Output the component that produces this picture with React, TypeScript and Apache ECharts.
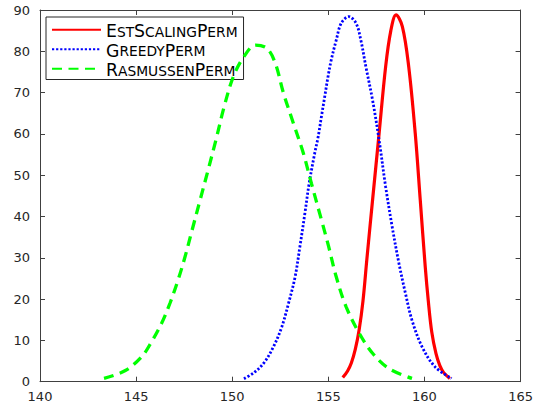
import React, { useEffect, useRef } from "react";
import * as echarts from "echarts";

const seriesNames = ["EstScalingPerm", "GreedyPerm", "RasmussenPerm"];
const seriesColors = ["#ff0000", "#0000ff", "#00ff00"];

const estX = [155.75, 156.0, 156.2, 156.4, 156.6, 156.8, 157.0, 157.3, 157.64, 157.98, 158.25, 158.52, 158.85, 159.18, 159.52, 159.78, 160.04, 160.2, 160.38, 160.6, 160.8, 161.0, 161.32];
const estY = [1.0, 2.6, 4.6, 7.8, 12.5, 19.5, 29.5, 44.0, 60.1, 76.3, 85.0, 88.8, 86.0, 76.3, 60.1, 44.0, 27.8, 19.5, 12.0, 6.8, 3.9, 2.2, 0.8];

const greedyX = [150.61, 151.13, 151.64, 152.15, 152.58, 152.93, 153.27, 153.52, 153.78, 154.0, 154.29, 154.47, 154.64, 154.81, 154.98, 155.15, 155.41, 155.67, 156.06, 156.44, 156.69, 156.95, 157.3, 157.64, 157.98, 158.32, 158.67, 159.01, 159.35, 159.87, 160.55, 161.41];
const greedyY = [0.7, 2.2, 4.5, 8.5, 13.3, 19.0, 25.4, 32.7, 40.8, 48.0, 55.3, 59.3, 64.2, 69.0, 73.8, 77.9, 82.7, 86.8, 88.4, 86.8, 82.7, 76.3, 68.2, 58.5, 47.2, 37.5, 28.7, 21.4, 14.9, 8.5, 3.6, 0.8];

const rasX = [143.33, 144.44, 145.3, 145.81, 146.32, 146.76, 147.18, 147.53, 147.9, 148.3, 148.73, 149.15, 149.58, 150.06, 150.61, 151.21, 151.81, 152.24, 152.67, 153.18, 153.7, 154.12, 154.64, 155.0, 155.41, 155.92, 156.61, 157.3, 158.15, 159.35];
const rasY = [0.8, 2.7, 6.1, 9.7, 14.1, 19.0, 24.6, 30.0, 36.5, 43.5, 51.0, 58.5, 66.6, 73.9, 78.7, 81.5, 80.7, 77.1, 69.8, 62.6, 55.3, 48.0, 39.2, 33.0, 25.4, 18.2, 11.7, 6.9, 3.2, 0.8];

const xMin = 140;
const xMax = 165;
const xStep = 5;
const yMin = 0;
const yMax = 90;
const yStep = 10;

const FONT = "DejaVu Sans";
const AXIS_COLOR = "#404040";
const LABEL_COLOR = "#262626";

function smallCaps(name: string): string {
  let out = "";
  let i = 0;
  while (i < name.length) {
    const ch = name[i];
    if (ch >= "A" && ch <= "Z") {
      out += "{a|" + ch + "}";
      i++;
    } else {
      let j = i;
      while (j < name.length && !(name[j] >= "A" && name[j] <= "Z")) j++;
      out += "{b|" + name.slice(i, j).toUpperCase() + "}";
      i = j;
    }
  }
  return out;
}

function pairs(xs: number[], ys: number[]): number[][] {
  return xs.map((x, i) => [x, ys[i]]);
}

export default function App() {
  const ref = useRef<HTMLDivElement>(null);

  useEffect(() => {
    if (!ref.current) return;
    const chart = echarts.init(ref.current, null, { renderer: "svg" });

    const baseAxis = {
      axisLine: { show: true, onZero: false, lineStyle: { color: AXIS_COLOR, width: 1 } },
      axisTick: { show: true, inside: true, length: 5, lineStyle: { color: AXIS_COLOR, width: 1 } },
      splitLine: { show: false },
    };

    const lineStyles = [
      { color: seriesColors[0], width: 3.2, type: "solid" as const },
      { color: seriesColors[1], width: 2.8, type: [2.2, 1.9] as any, cap: "butt" as const },
      { color: seriesColors[2], width: 3.3, type: [10, 6.5] as any, cap: "butt" as const },
    ];
    const datasets = [pairs(estX, estY), pairs(greedyX, greedyY), pairs(rasX, rasY)];

    chart.setOption({
      animation: false,
      backgroundColor: "#ffffff",
      grid: { left: 40, right: 9.5, top: 10, bottom: 30.3, containLabel: false },
      legend: {
        orient: "vertical",
        left: 46,
        top: 17,
        padding: [3, 6, 1, 5],
        itemWidth: 49,
        itemHeight: 14,
        itemGap: 0,
        borderColor: "#262626",
        borderWidth: 1,
        borderRadius: 0,
        backgroundColor: "#ffffff",
        itemStyle: { opacity: 0, borderWidth: 0 },
        data: seriesNames,
        formatter: (name: string) => smallCaps(name),
        textStyle: {
          color: "#000000",
          fontFamily: FONT,
          lineHeight: 19.5,
          rich: {
            a: { fontSize: 17.3, fontFamily: FONT, color: "#000000", verticalAlign: "bottom", lineHeight: 19.5 },
            b: { fontSize: 13.8, fontFamily: FONT, color: "#000000", verticalAlign: "bottom", lineHeight: 19.5, padding: [0, 0, 0.8, 0] },
          },
        },
      },
      xAxis: [
        {
          ...baseAxis,
          type: "value",
          position: "bottom",
          min: xMin,
          max: xMax,
          interval: xStep,
          axisLabel: { show: true, color: LABEL_COLOR, fontFamily: FONT, fontSize: 13, margin: 8 },
        },
        {
          ...baseAxis,
          type: "value",
          position: "top",
          min: xMin,
          max: xMax,
          interval: xStep,
          axisLabel: { show: false },
        },
      ],
      yAxis: [
        {
          ...baseAxis,
          type: "value",
          position: "left",
          min: yMin,
          max: yMax,
          interval: yStep,
          axisLabel: { show: true, color: LABEL_COLOR, fontFamily: FONT, fontSize: 13, margin: 10 },
        },
        {
          ...baseAxis,
          type: "value",
          position: "right",
          min: yMin,
          max: yMax,
          interval: yStep,
          axisLabel: { show: false },
        },
      ],
      series: seriesNames.map((name, i) => ({
        name,
        type: "line",
        xAxisIndex: 0,
        yAxisIndex: 0,
        data: datasets[i],
        smooth: 0.35,
        symbol: "none",
        showSymbol: false,
        color: seriesColors[i],
        lineStyle: lineStyles[i],
        itemStyle: { color: seriesColors[i] },
        z: 2 + i,
      })),
    });

    return () => {
      chart.dispose();
    };
  }, []);

  return (
    <div
      ref={ref}
      style={{ position: "fixed", left: 0, top: 0, width: 536, height: 412, background: "#fff" }}
    />
  );
}
